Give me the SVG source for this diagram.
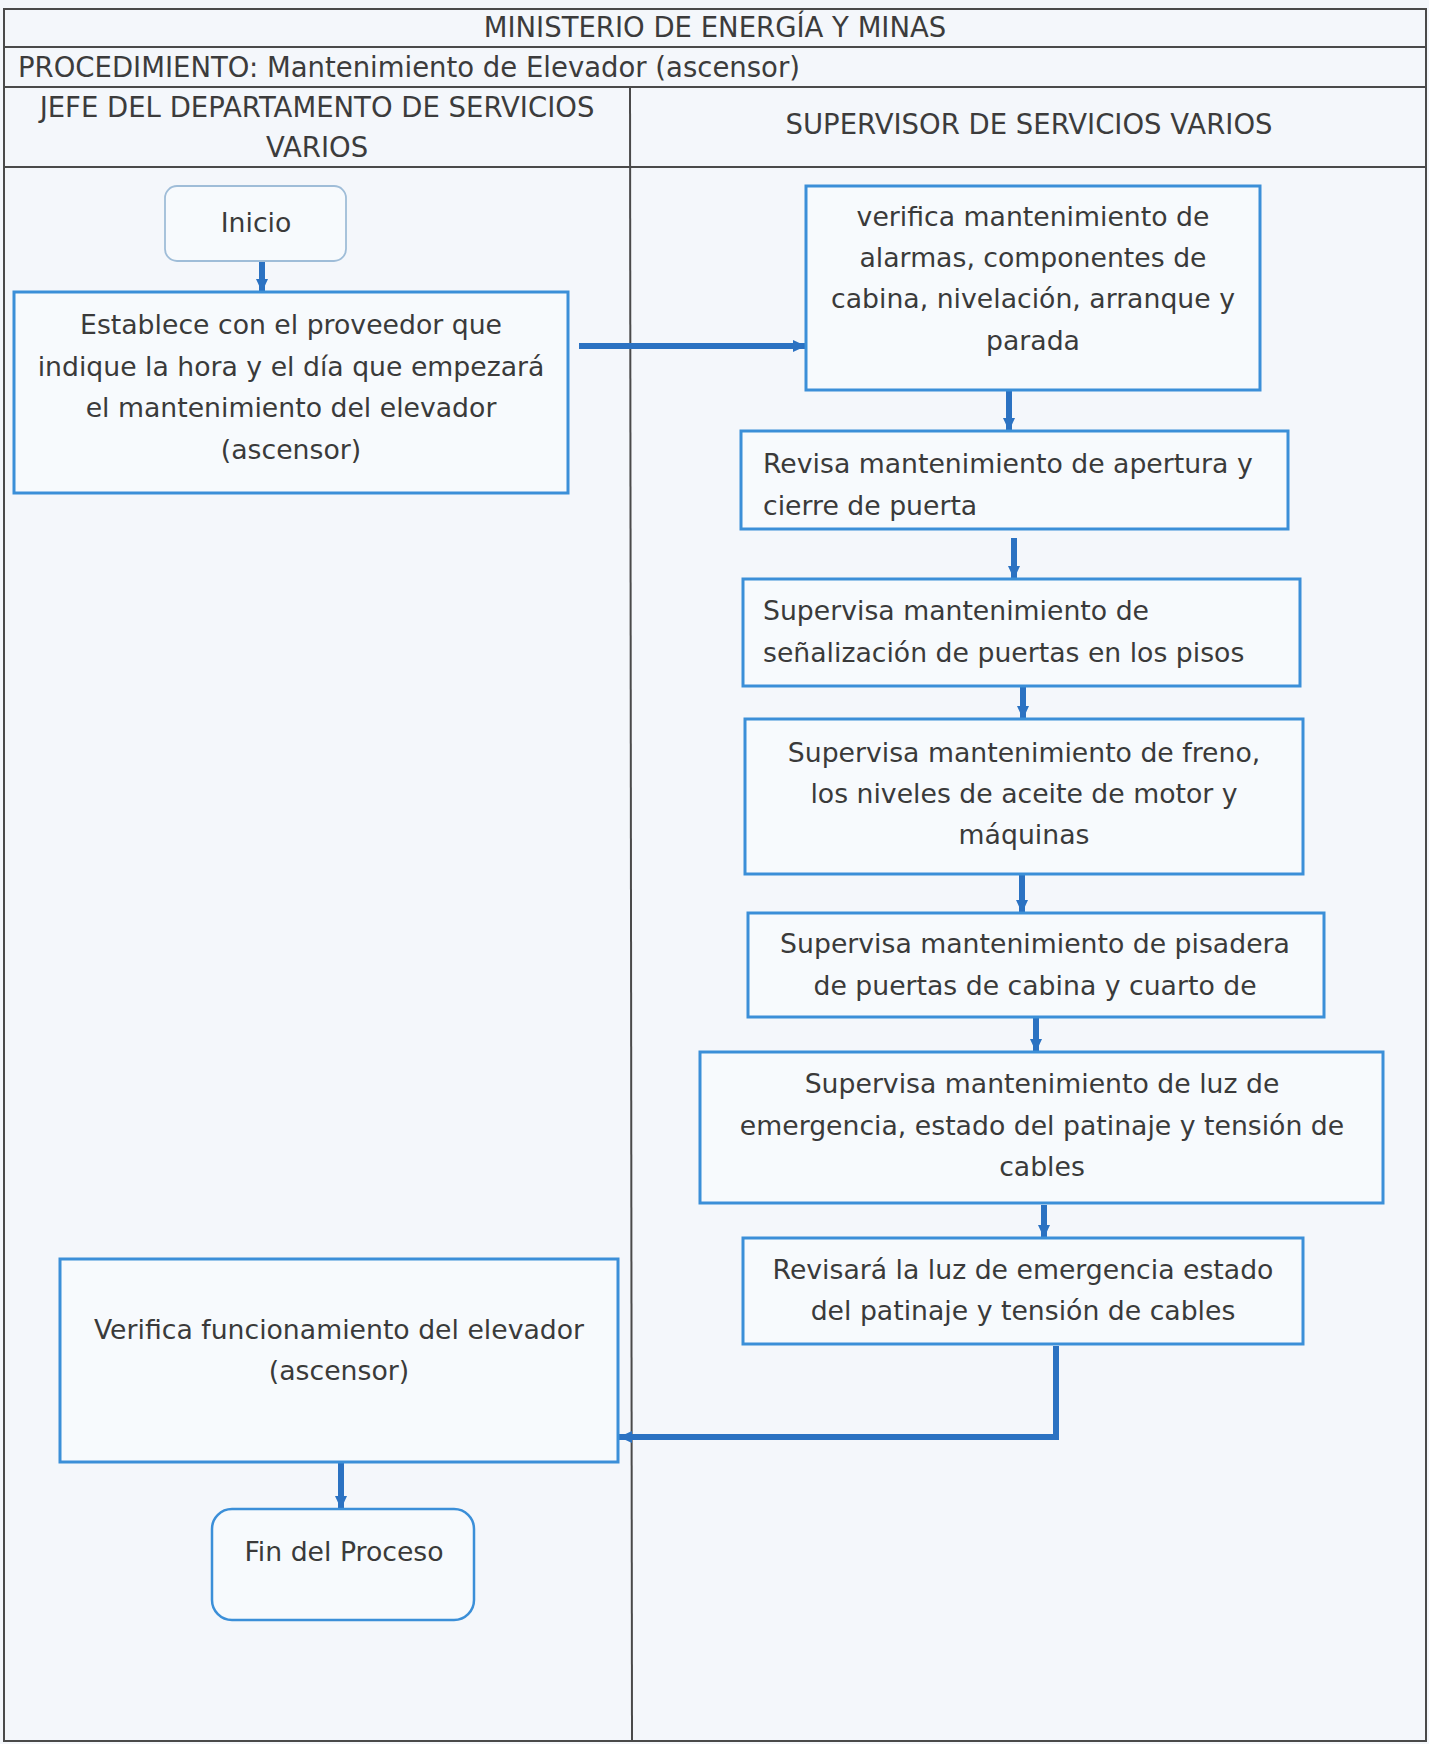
<svg xmlns="http://www.w3.org/2000/svg" width="1429" height="1744" viewBox="0 0 1429 1744">
<style>
.grid{stroke:#4a4a4a;stroke-width:2;fill:none}
.hdr{font-family:"DejaVu Sans",sans-serif;font-size:27.5px;fill:#3c3c3c}
.box{fill:#f7fafd;stroke:#3b8fd8;stroke-width:3}
.term{fill:#f7fafd;stroke:#3b8fd8;stroke-width:2.5}
.txt{font-family:"DejaVu Sans",sans-serif;font-size:26.7px;fill:#3a3a3a}
.c{text-anchor:middle}
.conn{stroke:#2b72c2;stroke-width:6;fill:none}
</style>
<defs>
<marker id="ah" markerUnits="userSpaceOnUse" markerWidth="14" markerHeight="14" viewBox="0 0 14 14" refX="13" refY="7" orient="auto">
<path d="M0,1 L13,7 L0,13 z" fill="#2b72c2"/>
</marker>
</defs>
<rect x="0" y="0" width="1429" height="1744" fill="#f4f7fb"/>
<g id="table">
<rect x="4" y="9" width="1422" height="1732" class="grid"/>
<line x1="4" y1="47" x2="1426" y2="47" class="grid"/>
<line x1="4" y1="87" x2="1426" y2="87" class="grid"/>
<line x1="4" y1="167" x2="1426" y2="167" class="grid"/>
<line x1="630" y1="87" x2="632" y2="1741" class="grid"/>
<text x="715" y="37" class="hdr c">MINISTERIO DE ENERGÍA Y MINAS</text>
<text x="18" y="77" class="hdr">PROCEDIMIENTO: Mantenimiento de Elevador (ascensor)</text>
<text x="317" y="117" class="hdr c">JEFE DEL DEPARTAMENTO DE SERVICIOS</text>
<text x="317" y="157" class="hdr c">VARIOS</text>
<text x="1029" y="134" class="hdr c">SUPERVISOR DE SERVICIOS VARIOS</text>
</g>
<g id="connectors">
<line x1="262" y1="261" x2="262" y2="292" class="conn" marker-end="url(#ah)"/>
<line x1="579" y1="346" x2="806" y2="346" class="conn" marker-end="url(#ah)"/>
<line x1="1009" y1="391" x2="1009" y2="431" class="conn" marker-end="url(#ah)"/>
<line x1="1014" y1="538" x2="1014" y2="579" class="conn" marker-end="url(#ah)"/>
<line x1="1023" y1="686" x2="1023" y2="719" class="conn" marker-end="url(#ah)"/>
<line x1="1022" y1="875" x2="1022" y2="913" class="conn" marker-end="url(#ah)"/>
<line x1="1036" y1="1017" x2="1036" y2="1052" class="conn" marker-end="url(#ah)"/>
<line x1="1044" y1="1205" x2="1044" y2="1238" class="conn" marker-end="url(#ah)"/>
<polyline points="1056,1346 1056,1437 619,1437" class="conn" marker-end="url(#ah)"/>
<line x1="341" y1="1463" x2="341" y2="1509" class="conn" marker-end="url(#ah)"/>
</g>
<g id="inicio">
<rect x="165" y="186" width="181" height="75" rx="12" fill="#f7fafd" stroke="#9fbdd8" stroke-width="1.8"/>
<text x="256" y="232" class="txt c">Inicio</text>
</g>
<g id="establece">
<rect x="14" y="292" width="554" height="201" class="box"/>
<text class="txt c"><tspan x="291" y="334">Establece con el proveedor que</tspan><tspan x="291" y="376">indique la hora y el día que empezará</tspan><tspan x="291" y="417">el mantenimiento del elevador</tspan><tspan x="291" y="459">(ascensor)</tspan></text>
</g>
<g id="verifica">
<rect x="806" y="186" width="454" height="204" class="box"/>
<text class="txt c"><tspan x="1033" y="226">verifica mantenimiento de</tspan><tspan x="1033" y="267">alarmas, componentes de</tspan><tspan x="1033" y="308">cabina, nivelación, arranque y</tspan><tspan x="1033" y="350">parada</tspan></text>
</g>
<g id="revisa">
<rect x="741" y="431" width="547" height="98" class="box"/>
<text class="txt"><tspan x="763" y="473">Revisa mantenimiento de apertura y</tspan><tspan x="763" y="515">cierre de puerta</tspan></text>
</g>
<g id="senalizacion">
<rect x="743" y="579" width="557" height="107" class="box"/>
<text class="txt"><tspan x="763" y="620">Supervisa mantenimiento de</tspan><tspan x="763" y="662">señalización de puertas en los pisos</tspan></text>
</g>
<g id="freno">
<rect x="745" y="719" width="558" height="155" class="box"/>
<text class="txt c"><tspan x="1024" y="762">Supervisa mantenimiento de freno,</tspan><tspan x="1024" y="803">los niveles de aceite de motor y</tspan><tspan x="1024" y="844">máquinas</tspan></text>
</g>
<g id="pisadera">
<rect x="748" y="913" width="576" height="104" class="box"/>
<text class="txt c"><tspan x="1035" y="953">Supervisa mantenimiento de pisadera</tspan><tspan x="1035" y="995">de puertas de cabina y cuarto de</tspan></text>
</g>
<g id="luz">
<rect x="700" y="1052" width="683" height="151" class="box"/>
<text class="txt c"><tspan x="1042" y="1093">Supervisa mantenimiento de luz de</tspan><tspan x="1042" y="1135">emergencia, estado del patinaje y tensión de</tspan><tspan x="1042" y="1176">cables</tspan></text>
</g>
<g id="revisara">
<rect x="743" y="1238" width="560" height="106" class="box"/>
<text class="txt c"><tspan x="1023" y="1279">Revisará la luz de emergencia estado</tspan><tspan x="1023" y="1320">del patinaje y tensión de cables</tspan></text>
</g>
<g id="funcionamiento">
<rect x="60" y="1259" width="558" height="203" class="box" stroke-width="2"/>
<text class="txt c"><tspan x="339" y="1339">Verifica funcionamiento del elevador</tspan><tspan x="339" y="1380">(ascensor)</tspan></text>
</g>
<g id="fin">
<rect x="212" y="1509" width="262" height="111" rx="20" class="term"/>
<text x="344" y="1561" class="txt c">Fin del Proceso</text>
</g>
</svg>
